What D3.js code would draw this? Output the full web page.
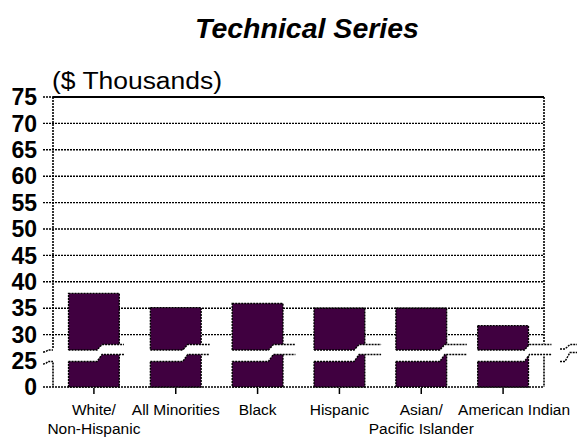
<!DOCTYPE html>
<html><head><meta charset="utf-8">
<script src="https://cdn.jsdelivr.net/npm/d3@7"></script>
<style>body{margin:0;background:#fff}svg{display:block}text{font-family:"Liberation Sans",Arial,sans-serif}</style>
</head><body>
<svg id="chart" width="577" height="438"></svg>
<script>
const categories = ["White/\nNon-Hispanic", "All Minorities", "Black", "Hispanic", "Asian/\nPacific Islander", "American Indian"];
const values = [37.8, 35.1, 35.9, 35.0, 35.0, 31.7];
const yTicks = [0, 25, 30, 35, 40, 45, 50, 55, 60, 65, 70, 75];
const title = "Technical Series";
const unitLabel = "($ Thousands)";
const breakValue = 25;

const svg = d3.select("#chart");
const L = 53, R = 544, T = 97, B = 387;
const x = d3.scaleBand().domain(categories).range([L, R]).paddingInner(0.38).paddingOuter(0.19);
const y = d3.scaleLinear().domain([0, breakValue, 75]).range([B, 361, T]);
const dot = "2,1";
const fill = "#400040";

// title
svg.append("text").attr("x", 307).attr("y", 38).attr("text-anchor", "middle")
  .attr("font-size", 28.5).attr("font-weight", "bold").attr("font-style", "italic").text(title);
svg.append("text").attr("x", 52).attr("y", 89).attr("font-size", 23.5)
  .attr("textLength", 170).attr("lengthAdjust", "spacingAndGlyphs").text(unitLabel);

// gridlines
const grid = svg.append("g");
yTicks.filter(t => t > breakValue && t < 75).forEach(t => {
  grid.append("line").attr("x1", 43).attr("x2", R).attr("y1", y(t)).attr("y2", y(t))
    .attr("stroke", "#000").attr("stroke-width", 1.4).attr("stroke-dasharray", dot);
});
// top border solid
grid.append("line").attr("x1", L).attr("x2", R).attr("y1", y(75)).attr("y2", y(75)).attr("stroke", "#000").attr("stroke-width", 2);
grid.append("line").attr("x1", 43).attr("x2", L).attr("y1", y(75)).attr("y2", y(75)).attr("stroke", "#000").attr("stroke-width", 1.4).attr("stroke-dasharray", dot);
// bottom axis
grid.append("line").attr("x1", 43).attr("x2", R).attr("y1", y(0)).attr("y2", y(0)).attr("stroke", "#000").attr("stroke-width", 1.6).attr("stroke-dasharray", dot);

const y25 = y(breakValue);
const uL = y25 - 11, lL = y25 + 0.5, uR = y25 - 16.5, lR = y25 - 6.5;

// left axis & right border (broken)
[[T, uL - 1], [lL + 1, B]].forEach(s => grid.append("line").attr("x1", L).attr("x2", L).attr("y1", s[0]).attr("y2", s[1])
  .attr("stroke", "#000").attr("stroke-width", 1.6).attr("stroke-dasharray", dot));
[[T, uR - 1], [lR + 2, B]].forEach(s => grid.append("line").attr("x1", R).attr("x2", R).attr("y1", s[0]).attr("y2", s[1])
  .attr("stroke", "#000").attr("stroke-width", 1.6).attr("stroke-dasharray", dot));

// y labels
svg.append("g").selectAll("text").data(yTicks).join("text")
  .attr("x", 37).attr("y", d => y(d)).attr("dy", "0.36em").attr("text-anchor", "end")
  .attr("font-size", 23).attr("font-weight", "bold").text(d => d);

// bars
const bars = svg.append("g");
bars.selectAll("rect").data(values).join("rect")
  .attr("x", (d, i) => x(categories[i])).attr("width", x.bandwidth())
  .attr("y", d => y(d)).attr("height", d => y(0) - y(d))
  .attr("fill", fill).attr("stroke", "#000").attr("stroke-width", 1.4).attr("stroke-dasharray", dot);

// breaks
const defs = svg.append("defs");
const brk = svg.append("g");
const period = 85.7, firstStep = 97, slant = 5;
categories.forEach((c, i) => {
  const x0 = x(c), w = x.bandwidth();
  const sx = Math.min(firstStep + period * i, x0 + w - 4);
  defs.append("clipPath").attr("id", "cp" + i).append("rect").attr("x", x0 - 2).attr("y", 0).attr("width", w + 4).attr("height", 438);
  brk.append("path").attr("clip-path", `url(#cp${i})`).attr("fill", "#fff")
    .attr("d", `M${x0 - 3},${uL}L${sx},${uL}L${sx + slant},${uR}L${x0 + w + 10},${uR}L${x0 + w + 10},${lR}L${sx + slant},${lR}L${sx},${lL}L${x0 - 3},${lL}Z`);
  const xe = Math.max(sx + 27, x0 + w);
  [[uL, uR], [lL, lR]].forEach(([a, b]) => {
    brk.append("path").attr("fill", "none").attr("stroke", "#000").attr("stroke-width", 1.4).attr("stroke-dasharray", dot)
      .attr("d", `M${x0},${a}L${sx},${a}L${sx + slant},${b}L${xe},${b}`);
  });
});
// axis break marks
[[uL + 2, uL], [lL + 2.5, lL]].forEach(([a, b]) => {
  brk.append("path").attr("fill", "none").attr("stroke", "#000").attr("stroke-width", 1.4).attr("stroke-dasharray", dot)
    .attr("d", `M43,${a}Q46,${a} 48,${b}L${L},${b}`);
});
[[uL - 1, uR], [lL, lR - 2]].forEach(([a, b]) => {
  brk.append("path").attr("fill", "none").attr("stroke", "#000").attr("stroke-width", 1.4).attr("stroke-dasharray", dot)
    .attr("d", `M${R + 16},${a}L${R + 21},${a}L${R + 26},${b}L577,${b}`);
});

// x ticks
svg.append("g").selectAll("line").data(categories).join("line")
  .attr("x1", d => x(d) + x.bandwidth() / 2).attr("x2", d => x(d) + x.bandwidth() / 2)
  .attr("y1", B + 1).attr("y2", B + 7).attr("stroke", "#000").attr("stroke-width", 1.5);

// x labels
const labelShift = c => c === "American Indian" ? 11 : 0;
const xl = svg.append("g");
categories.forEach(c => {
  const t = xl.append("text").attr("text-anchor", "middle").attr("font-size", 15.5);
  c.split("\n").forEach((line, j) => {
    t.append("tspan").attr("x", x(c) + x.bandwidth() / 2 + labelShift(c)).attr("y", 415 + j * 19).text(line);
  });
});
</script>
</body></html>
